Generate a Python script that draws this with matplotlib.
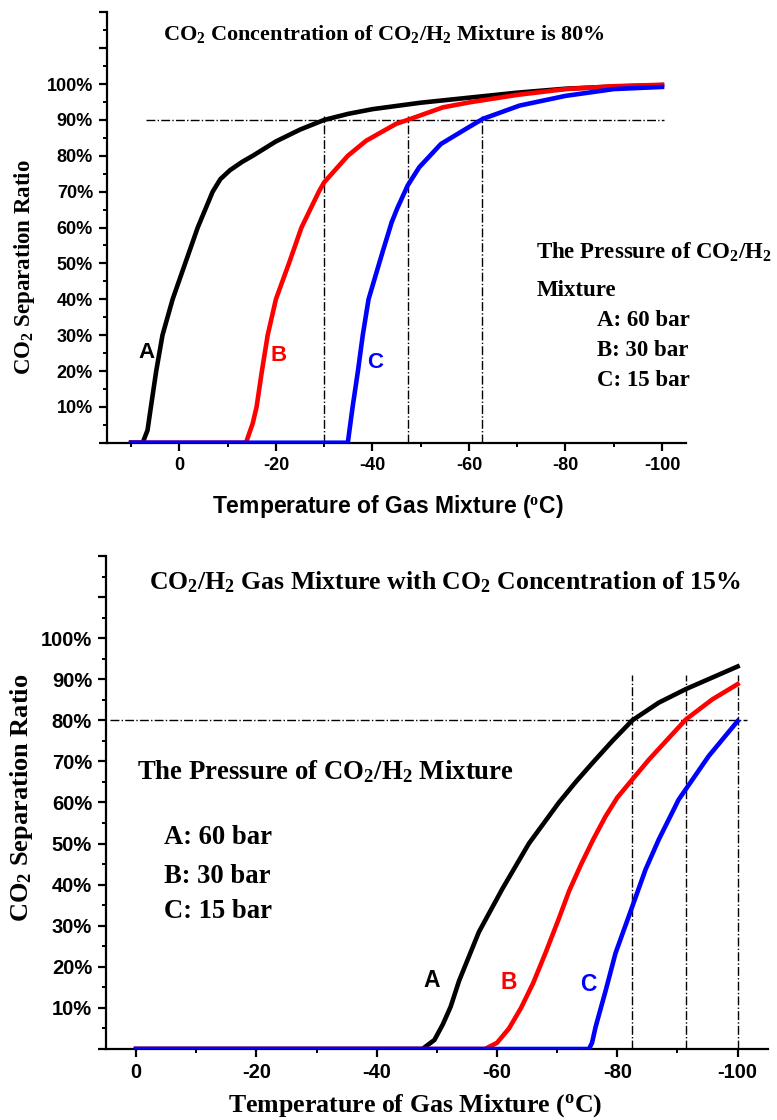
import matplotlib
matplotlib.use("Agg")
import matplotlib.pyplot as plt
from matplotlib.ticker import MultipleLocator, FuncFormatter

plt.rcParams['font.family'] = 'Liberation Sans'
plt.rcParams['font.weight'] = 'bold'
plt.rcParams['mathtext.fontset'] = 'custom'
plt.rcParams['mathtext.rm'] = 'Liberation Serif:bold'
plt.rcParams['mathtext.it'] = 'Liberation Serif:bold'
plt.rcParams['mathtext.bf'] = 'Liberation Serif:bold'
plt.rcParams['mathtext.default'] = 'rm'

# Haut : CO2 80 %
t_a1 = [10, 7.6, 6.6, 5.9, 4.8, 3.5, 1.4, -1.2, -3.8, -6.9, -8.5, -10.5, -13, -15.2, -20, -25, -30, -35, -40, -50, -60, -70, -80, -90, -100]
y_a1 = [0, 0, 0.035, 0.1, 0.2, 0.3, 0.4, 0.5, 0.6, 0.7, 0.735, 0.76, 0.783, 0.8, 0.84, 0.873, 0.9, 0.917, 0.93, 0.948, 0.962, 0.976, 0.987, 0.993, 0.997]
t_b1 = [10, -13.8, -15.2, -16, -17.1, -18.3, -20, -22.7, -25.3, -28.9, -30, -34.9, -38.7, -44.9, -47.3, -54.6, -60.1, -70.1, -80.1, -90, -100]
y_b1 = [0, 0, 0.054, 0.1, 0.2, 0.3, 0.4, 0.5, 0.6, 0.7, 0.726, 0.8, 0.842, 0.889, 0.9, 0.935, 0.949, 0.97, 0.986, 0.994, 0.998]
t_c1 = [10, -34.9, -35.9, -37, -38, -39.2, -41.4, -42.2, -44, -45.2, -47.3, -49.7, -54.2, -60, -62.9, -70.5, -80, -90, -100]
y_c1 = [0, 0, 0.1, 0.2, 0.3, 0.4, 0.5, 0.536, 0.615, 0.655, 0.717, 0.768, 0.833, 0.88, 0.903, 0.94, 0.967, 0.986, 0.992]

# Bas : CO2 15 %
t_a2 = [0, -47.6, -49.6, -51, -52.3, -53.7, -57, -60.9, -65.3, -70.3, -73.1, -75.8, -79.2, -82.5, -86.9, -91.4, -100]
y_a2 = [0, 0, 0.022, 0.06, 0.103, 0.166, 0.285, 0.39, 0.5, 0.6, 0.65, 0.695, 0.75, 0.8, 0.843, 0.876, 0.931]
t_b2 = [0, -58, -60, -62, -64, -66, -68.1, -70.3, -72, -74, -76, -78, -80, -82.5, -85.3, -91.4, -95.8, -100]
y_b2 = [0, 0, 0.015, 0.05, 0.1, 0.16, 0.235, 0.318, 0.385, 0.45, 0.51, 0.565, 0.612, 0.656, 0.705, 0.802, 0.851, 0.888]
t_c2 = [0, -75.3, -75.8, -76.4, -78.1, -79.7, -82.5, -84.7, -86.9, -90.2, -95.2, -100]
y_c2 = [0, 0, 0.015, 0.054, 0.144, 0.233, 0.347, 0.437, 0.51, 0.607, 0.713, 0.798]

vlines1 = [-30, -47.3, -62.8]
vlines2 = [-82.5, -91.4, -100]

serif = 'Liberation Serif'

fig = plt.figure(figsize=(7.77, 11.2), dpi=100)
ax1 = fig.add_axes([0.1377, 0.6047, 0.7453, 0.3843])
ax2 = fig.add_axes([0.1364, 0.0634, 0.8516, 0.4402])

pct = FuncFormatter(lambda v, p: '%d%%' % round(v * 100) if 0.05 < v < 1.05 else '')

for ax, xmin, fs in [(ax1, 15, 13), (ax2, 5, 14.5)]:
    ax.set_xlim(xmin, -105)
    ax.set_ylim(0, 1.2)
    ax.spines['top'].set_visible(False)
    ax.spines['right'].set_visible(False)
    ax.spines['left'].set_linewidth(1.6)
    ax.spines['bottom'].set_linewidth(1.6)
    ax.xaxis.set_major_locator(MultipleLocator(20))
    ax.xaxis.set_minor_locator(MultipleLocator(10))
    ax.yaxis.set_major_locator(MultipleLocator(0.1))
    ax.yaxis.set_minor_locator(MultipleLocator(0.05))
    ax.yaxis.set_major_formatter(pct)
    ax.xaxis.set_major_formatter(FuncFormatter(lambda v, p: '%d' % v))
    ax.tick_params(which='major', length=6, width=1.6, labelsize=fs, pad=4)
    ax.tick_params(which='minor', length=3, width=1.4)
    for lab in ax.get_xticklabels() + ax.get_yticklabels():
        lab.set_fontweight('bold')

# Graphique du haut
ax1.axhline(0.9, xmin=(15 - 7) / 120, xmax=(15 + 100.5) / 120, color='black', lw=1, ls='-.')
for v in vlines1:
    ax1.plot([v, v], [0, 0.91], color='black', lw=1, ls='-.')
ax1.plot(t_c1, y_c1, color='blue', lw=3.3, zorder=3)
ax1.plot(t_b1, y_b1, color='red', lw=3.3, zorder=2)
ax1.plot(t_a1, y_a1, color='black', lw=3.3, zorder=1)
for lab, x, y, c in [('A', 6.8, 0.252, 'black'), ('B', -20.5, 0.244, 'red'), ('C', -40.6, 0.225, 'blue')]:
    ax1.text(x, y, lab, color=c, fontsize=16, fontweight='bold', ha='center', va='center')
ax1.text(-42.3, 1.14, r'CO$_2$ Concentration of CO$_2$/H$_2$ Mixture is 80%',
         ha='center', va='center', fontsize=16, family=serif, fontweight='bold')
ax1.text(-74, 0.53, r'The Pressure of CO$_2$/H$_2$', fontsize=16.5, family=serif, fontweight='bold', va='center')
ax1.text(-74, 0.424, 'Mixture', fontsize=16.5, family=serif, fontweight='bold', va='center')
for i, s in enumerate(['A: 60 bar', 'B: 30 bar', 'C: 15 bar']):
    ax1.text(-86.6, 0.341 - i * 0.0835, s, fontsize=16.5, family=serif, fontweight='bold', va='center')
fig.text(388 / 777, 1 - 506 / 1120, r'Temperature of Gas Mixture ($^{\rm o}$C)',
         fontsize=16.5, fontweight='bold', ha='center', va='center')
fig.text(25 / 777, 1 - 267 / 1120, r'CO$_2$ Separation Ratio', rotation=90,
         fontsize=16.5, family=serif, fontweight='bold', ha='center', va='center')

# Graphique du bas
ax2.axhline(0.8, xmin=(5 - 4.4) / 110, xmax=(5 + 101.5) / 110, color='black', lw=1, ls='-.')
for v in vlines2:
    ax2.plot([v, v], [0, 0.91], color='black', lw=1, ls='-.')
ax2.plot(t_c2, y_c2, color='blue', lw=3.3, zorder=3)
ax2.plot(t_b2, y_b2, color='red', lw=3.3, zorder=2)
ax2.plot(t_a2, y_a2, color='black', lw=3.3, zorder=1)
for lab, x, y, c in [('A', -49.1, 0.166, 'black'), ('B', -61.9, 0.161, 'red'), ('C', -75.1, 0.156, 'blue')]:
    ax2.text(x, y, lab, color=c, fontsize=16.5, fontweight='bold', ha='center', va='center')
ax2.text(-51.4, 1.137, r'CO$_2$/H$_2$ Gas Mixture with CO$_2$ Concentration of 15%',
         ha='center', va='center', fontsize=18.5, family=serif, fontweight='bold')
ax2.text(-0.2, 0.676, r'The Pressure of CO$_2$/H$_2$ Mixture', fontsize=19.3, family=serif, fontweight='bold', va='center')
for i, s in enumerate(['A: 60 bar', 'B: 30 bar', 'C: 15 bar']):
    ax2.text(-4.7, [0.515, 0.42, 0.334][i], s, fontsize=19.2, family=serif, fontweight='bold', va='center')
fig.text(415 / 777, 1 - 1106 / 1120, r'Temperature of Gas Mixture ($^{\rm o}$C)',
         fontsize=18.6, family=serif, fontweight='bold', ha='center', va='center')
fig.text(22 / 777, 1 - 798 / 1120, r'CO$_2$ Separation Ratio', rotation=90,
         fontsize=19, family=serif, fontweight='bold', ha='center', va='center')

fig.savefig('out.png', dpi=100)
